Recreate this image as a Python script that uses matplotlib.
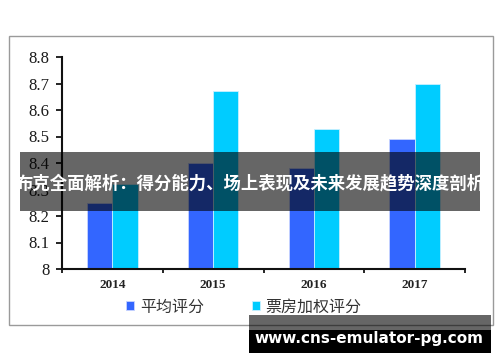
import matplotlib
matplotlib.use("Agg")
import matplotlib.pyplot as plt
from matplotlib.patches import Rectangle
import numpy as np

categories = ["2014", "2015", "2016", "2017"]
avg_score = [8.25, 8.40, 8.38, 8.49]
weighted_score = [8.32, 8.67, 8.53, 8.70]
series_names = ["平均评分", "票房加权评分"]
yticks = [8, 8.1, 8.2, 8.3, 8.4, 8.5, 8.6, 8.7, 8.8]
ytick_labels = ["8", "8.1", "8.2", "8.3", "8.4", "8.5", "8.6", "8.7", "8.8"]
banner_text = "布克全面解析：得分能力、场上表现及未来发展趋势深度剖析"
watermark = "www.cns-emulator-pg.com"

W, H = 500, 362
fig = plt.figure(figsize=(W / 100, H / 100), dpi=100)

def fx(px):
    return px / W

def fy(py):
    return 1 - py / H

# outer frame
fig.patches.append(Rectangle((fx(9), fy(325)), fx(493) - fx(9), fy(36) - fy(325),
                             transform=fig.transFigure, fill=False,
                             edgecolor="#9a9a9a", linewidth=1.0, zorder=0))

ax = fig.add_axes([fx(62), fy(269), fx(465) - fx(62), fy(57) - fy(269)])
x = np.arange(len(categories))
bw = 0.25
ax.bar(x - bw / 2, avg_score, width=bw, color="#3366FF", edgecolor="#c8d4ff",
       linewidth=0.6, label=series_names[0])
ax.bar(x + bw / 2, weighted_score, width=bw, color="#00CCFF", edgecolor="#c8f0ff",
       linewidth=0.6, label=series_names[1])

ax.set_ylim(8, 8.8)
ax.set_xlim(-0.5, len(categories) - 0.5)
ax.set_yticks(yticks)
ax.set_yticklabels(ytick_labels, fontfamily="Liberation Serif", fontsize=12,
                   color="#1a1a1a")
ax.set_xticks(x)
ax.set_xticklabels(categories, fontfamily="Liberation Serif", fontsize=9.5,
                   fontweight="bold", color="#222222")
ax.set_xticks(np.arange(-0.5, len(categories)), minor=True)
ax.tick_params(axis="x", which="major", length=0, pad=7)
ax.tick_params(axis="x", which="minor", length=3, width=1.2, direction="out")
ax.tick_params(axis="y", length=4, width=1.2, direction="out", pad=5)
for s in ["top", "right"]:
    ax.spines[s].set_visible(False)
for s in ["left", "bottom"]:
    ax.spines[s].set_linewidth(1.5)
    ax.spines[s].set_color("#111111")

leg = ax.legend(loc="center", bbox_to_anchor=(fx(244), fy(307)),
                bbox_transform=fig.transFigure, ncol=2, frameon=False,
                prop={"family": ["Noto Sans CJK SC", "DejaVu Sans"], "size": 11.5},
                handlelength=0.5, handleheight=0.5, handletextpad=0.35,
                columnspacing=3.0)
for t in leg.get_texts():
    t.set_color("#333333")

# banner
fig.patches.append(Rectangle((fx(20), fy(211)), fx(480) - fx(20), fy(152) - fy(211),
                             transform=fig.transFigure, facecolor="black",
                             alpha=0.6, edgecolor="none", zorder=10))
fig.text(fx(250), fy(183), banner_text, ha="center", va="center", color="white",
         fontsize=12.5, fontweight="bold",
         family=["Noto Sans CJK SC", "DejaVu Sans"], zorder=11)

# watermark
fig.patches.append(Rectangle((fx(249), fy(330)), fx(491) - fx(249), fy(315) - fy(330),
                             transform=fig.transFigure, facecolor="black",
                             alpha=0.6, edgecolor="none", zorder=10))
fig.patches.append(Rectangle((fx(249), fy(353)), fx(491) - fx(249), fy(330) - fy(353),
                             transform=fig.transFigure, facecolor="black",
                             edgecolor="none", zorder=10))
fig.text(fx(369), fy(339), watermark, ha="center", va="center", color="white",
         fontsize=11, fontweight="bold", family="DejaVu Sans", zorder=11)

fig.savefig("out.png", dpi=100)
